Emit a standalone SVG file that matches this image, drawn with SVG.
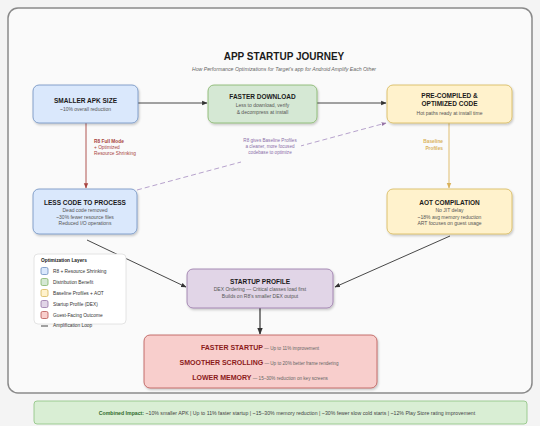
<svg xmlns="http://www.w3.org/2000/svg" width="540" height="426" viewBox="0 0 540 426">
<defs>
<filter id="sh" x="-10%" y="-10%" width="130%" height="140%"><feDropShadow dx="1" dy="1.5" stdDeviation="1.2" flood-color="#000" flood-opacity="0.22"/></filter>
<marker id="aD" viewBox="0 0 10 10" refX="9" refY="5" markerWidth="6" markerHeight="6" orient="auto"><path d="M0,1 L10,5 L0,9 z" fill="#333"/></marker>
<marker id="aR" viewBox="0 0 10 10" refX="9" refY="5" markerWidth="6" markerHeight="6" orient="auto"><path d="M0,1 L10,5 L0,9 z" fill="#a84440"/></marker>
<marker id="aY" viewBox="0 0 10 10" refX="9" refY="5" markerWidth="6" markerHeight="6" orient="auto"><path d="M0,1 L10,5 L0,9 z" fill="#d9b25c"/></marker>
<marker id="aP" viewBox="0 0 10 10" refX="9" refY="5" markerWidth="6" markerHeight="6" orient="auto"><path d="M0,1 L10,5 L0,9 z" fill="#9673a6"/></marker>
</defs>
<style>
text{font-family:"Liberation Sans",Arial,sans-serif;}
.t{font-size:6.5px;font-weight:bold;fill:#1a1a1a;text-anchor:middle;}
.s{font-size:5px;fill:#555;text-anchor:middle;}
.blue{fill:#dae8fc;stroke:#6c8ebf;stroke-width:0.8;}
.green{fill:#d5e8d4;stroke:#82b366;stroke-width:0.8;}
.yellow{fill:#fff2cc;stroke:#d6b656;stroke-width:0.8;}
.purple{fill:#e1d5e7;stroke:#9673a6;stroke-width:0.8;}
.red{fill:#f8cecc;stroke:#b85450;stroke-width:0.8;}
.ot{font-size:7px;font-weight:bold;fill:#8b1a1a;}
.od{font-size:4.6px;fill:#666;}
.lg{font-size:4.8px;fill:#333;}
</style>
<rect x="0" y="0" width="540" height="426" fill="#f4f4f4"/>
<rect x="8" y="8" width="524" height="385" rx="10" fill="#fafafa" stroke="#8a8a8a" stroke-width="1.5"/>
<text x="284" y="60" font-size="10" font-weight="bold" fill="#1a1a1a" text-anchor="middle">APP STARTUP JOURNEY</text>
<text x="284" y="70.5" font-size="5.2" font-style="italic" fill="#666" text-anchor="middle">How Performance Optimizations for Target's app for Android Amplify Each Other</text>

<g id="connectors" fill="none">
<line x1="138" y1="103" x2="207" y2="103" stroke="#333" stroke-width="0.9" marker-end="url(#aD)"/>
<line x1="317" y1="103" x2="386" y2="103" stroke="#333" stroke-width="0.9" marker-end="url(#aD)"/>
<line x1="86" y1="123" x2="86" y2="188" stroke="#a84440" stroke-width="0.9" marker-end="url(#aR)"/>
<line x1="449" y1="123" x2="449" y2="188" stroke="#e0be70" stroke-width="1" marker-end="url(#aY)"/>
<line x1="137" y1="190" x2="386" y2="123" stroke="#a58bc0" stroke-width="0.8" stroke-dasharray="5,3" marker-end="url(#aP)"/>
<line x1="87" y1="240" x2="186" y2="287" stroke="#333" stroke-width="0.9" marker-end="url(#aD)"/>
<line x1="450" y1="236" x2="335" y2="287" stroke="#333" stroke-width="0.9" marker-end="url(#aD)"/>
<line x1="260" y1="308" x2="260" y2="334" stroke="#333" stroke-width="1.2" marker-end="url(#aD)"/>
<text x="94" y="143" font-size="4.8" font-weight="bold" fill="#a84440">R8 Full Mode</text>
<text x="94" y="149" font-size="4.8" fill="#a84440">+ Optimized</text>
<text x="94" y="155" font-size="4.8" fill="#a84440">Resource Shrinking</text>
<text x="443" y="143" font-size="4.8" font-weight="bold" fill="#d9b25c" text-anchor="end">Baseline</text>
<text x="443" y="150" font-size="4.8" font-weight="bold" fill="#d9b25c" text-anchor="end">Profiles</text>
<rect x="241" y="137" width="60" height="26" fill="#fafafa" stroke="none"/>
<text x="270" y="142" font-size="4.6" fill="#8a6fa8" text-anchor="middle">R8 gives Baseline Profiles</text>
<text x="270" y="148" font-size="4.6" fill="#8a6fa8" text-anchor="middle">a cleaner, more focused</text>
<text x="270" y="154" font-size="4.6" fill="#8a6fa8" text-anchor="middle">codebase to optimize</text>
</g>

<g id="smaller-apk">
<rect x="33" y="85" width="105" height="38" rx="6" class="blue" filter="url(#sh)"/>
<text x="85.5" y="103" class="t">SMALLER APK SIZE</text>
<text x="85.5" y="110.5" class="s">~10% overall reduction</text>
</g>
<g id="faster-download">
<rect x="208" y="85" width="109" height="38" rx="6" class="green" filter="url(#sh)"/>
<text x="262.5" y="99" class="t">FASTER DOWNLOAD</text>
<text x="262.5" y="106.5" class="s">Less to download, verify</text>
<text x="262.5" y="113.5" class="s">&amp; decompress at install</text>
</g>
<g id="precompiled">
<rect x="387" y="85" width="125" height="38" rx="6" class="yellow" filter="url(#sh)"/>
<text x="449.5" y="98" class="t">PRE-COMPILED &amp;</text>
<text x="449.5" y="106" class="t">OPTIMIZED CODE</text>
<text x="449.5" y="114.5" class="s">Hot paths ready at install time</text>
</g>
<g id="less-code">
<rect x="33" y="189" width="104" height="45" rx="6" class="blue" filter="url(#sh)"/>
<text x="85" y="205" class="t">LESS CODE TO PROCESS</text>
<text x="85" y="212" class="s">Dead code removed</text>
<text x="85" y="218.5" class="s">~30% fewer resource files</text>
<text x="85" y="225" class="s">Reduced I/O operations</text>
</g>
<g id="aot">
<rect x="387" y="189" width="125" height="45" rx="6" class="yellow" filter="url(#sh)"/>
<text x="449.5" y="205" class="t">AOT COMPILATION</text>
<text x="449.5" y="212" class="s">No JIT delay</text>
<text x="449.5" y="218.5" class="s">~18% avg memory reduction</text>
<text x="449.5" y="225" class="s">ART focuses on guest usage</text>
</g>
<g id="startup-profile">
<rect x="187" y="269" width="146" height="39" rx="6" class="purple" filter="url(#sh)"/>
<text x="260" y="284" class="t">STARTUP PROFILE</text>
<text x="260" y="291" class="s">DEX Ordering — Critical classes load first</text>
<text x="260" y="297.5" class="s">Builds on R8's smaller DEX output</text>
</g>
<g id="outcomes">
<rect x="144" y="335" width="233" height="53" rx="6" class="red" filter="url(#sh)"/>
<text x="260" y="349.5" text-anchor="middle"><tspan class="ot">FASTER STARTUP</tspan><tspan class="od"> — Up to 11% improvement</tspan></text>
<text x="259" y="364.5" text-anchor="middle"><tspan class="ot">SMOOTHER SCROLLING</tspan><tspan class="od"> — Up to 20% better frame rendering</tspan></text>
<text x="260" y="380" text-anchor="middle"><tspan class="ot">LOWER MEMORY</tspan><tspan class="od"> — 15–30% reduction on key screens</tspan></text>
</g>
<g id="legend">
<rect x="34" y="254" width="92" height="70" rx="4" fill="#fff" stroke="#ddd" stroke-width="0.8"/>
<text x="41" y="262" font-size="4.8" font-weight="bold" fill="#222">Optimization Layers</text>
<rect x="41" y="267.5" width="7" height="7" rx="1.5" class="blue"/>
<text x="53" y="272.8" class="lg">R8 + Resource Shrinking</text>
<rect x="41" y="278.5" width="7" height="7" rx="1.5" class="green"/>
<text x="53" y="283.8" class="lg">Distribution Benefit</text>
<rect x="41" y="289.5" width="7" height="7" rx="1.5" class="yellow"/>
<text x="53" y="294.8" class="lg">Baseline Profiles + AOT</text>
<rect x="41" y="300.5" width="7" height="7" rx="1.5" class="purple"/>
<text x="53" y="305.8" class="lg">Startup Profile (DEX)</text>
<rect x="41" y="311.5" width="7" height="7" rx="1.5" class="red"/>
<text x="53" y="316.8" class="lg">Guest-Facing Outcome</text>
<line x1="41" y1="326" x2="48" y2="326" stroke="#333" stroke-width="0.9"/>
<text x="53" y="327" class="lg">Amplification Loop</text>
</g>
<g id="combined-impact">
<rect x="34" y="401" width="493" height="23" rx="3" fill="#d9eed4" stroke="#8cc27f" stroke-width="0.8"/>
<text x="287" y="414.5" font-size="5.2" fill="#444" text-anchor="middle"><tspan font-weight="bold" fill="#2f6b2a">Combined Impact:</tspan> ~10% smaller APK | Up to 11% faster startup | ~15–30% memory reduction | ~30% fewer slow cold starts | ~12% Play Store rating improvement</text>
</g>
</svg>
